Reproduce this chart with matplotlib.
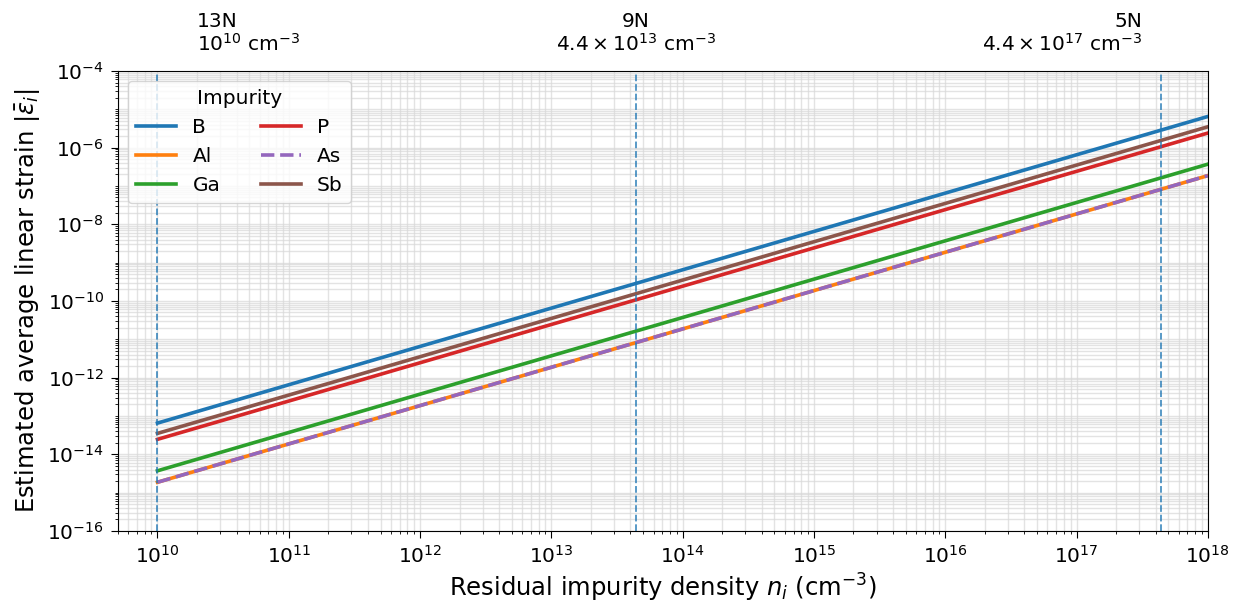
import numpy as np
import matplotlib
matplotlib.use("Agg")
import matplotlib.pyplot as plt
from matplotlib.ticker import LogLocator, NullFormatter
import matplotlib.transforms as mtransforms

# impurity density range (cm^-3) and strain read at both ends
n_ends = [1e10, 1e18]
impurities = ["B", "Al", "Ga", "P", "As", "Sb"]
strain_lo = [6.5e-14, 1.86e-15, 3.7e-15, 2.45e-14, 1.86e-15, 3.5e-14]
strain_hi = [6.5e-6, 1.86e-7, 3.7e-7, 2.4e-6, 1.86e-7, 3.5e-6]
colors = ["C0", "C1", "C2", "C3", "C4", "C5"]
styles = ["-", "-", "-", "-", "--", "-"]

# purity markers
mark_n = [1e10, 4.4e13, 4.4e17]
mark_labels = ["13N\n$10^{10}$ cm$^{-3}$",
               "9N\n$4.4\\times10^{13}$ cm$^{-3}$",
               "5N\n$4.4\\times10^{17}$ cm$^{-3}$"]
mark_text_x = [2.0e10, 4.4e13, 3.15e17]
mark_ha = ["left", "center", "right"]

fig = plt.figure(figsize=(12.35, 6.04), dpi=100)
ax = fig.add_axes([0.0955, 0.121, 0.8825, 0.7615])

for name, lo, hi, c, ls in zip(impurities, strain_lo, strain_hi, colors, styles):
    ax.plot(n_ends, [lo, hi], color=c, ls=ls, lw=2.6, label=name)

for xv in mark_n:
    ax.axvline(xv, color="C0", ls="--", lw=1.3, alpha=0.8)

ax.set_xscale("log")
ax.set_yscale("log")
ax.set_xlim(5e9, 1e18)
ax.set_ylim(1e-16, 1e-4)

ax.yaxis.set_major_locator(LogLocator(base=10, numticks=7))
ax.yaxis.set_minor_locator(LogLocator(base=10, subs=np.arange(1, 10), numticks=100))
ax.yaxis.set_minor_formatter(NullFormatter())
ax.xaxis.set_minor_locator(LogLocator(base=10, subs=np.arange(2, 10), numticks=100))
ax.xaxis.set_minor_formatter(NullFormatter())

ax.grid(True, which="both", color="#d8d8d8", lw=1.0, alpha=0.7)
ax.tick_params(labelsize=14.5)
ax.tick_params(which="major", length=5, pad=5)

ax.set_xlabel("Residual impurity density $n_i$ (cm$^{-3}$)", fontsize=17.5)
ax.set_ylabel("Estimated average linear strain $|\\bar{\\varepsilon}_i|$", fontsize=17.5)

trans = mtransforms.blended_transform_factory(ax.transData, ax.transAxes)
for xt, lab, ha in zip(mark_text_x, mark_labels, mark_ha):
    ax.text(xt, 1.035, lab, transform=trans, ha=ha, va="bottom",
            multialignment=ha, fontsize=14.5, linespacing=1.1)

leg = ax.legend(title="Impurity", ncol=2, loc="upper left", fontsize=14.5,
                title_fontsize=14.5, handlelength=2.0, columnspacing=2.0)

fig.savefig("out.png", dpi=100)
